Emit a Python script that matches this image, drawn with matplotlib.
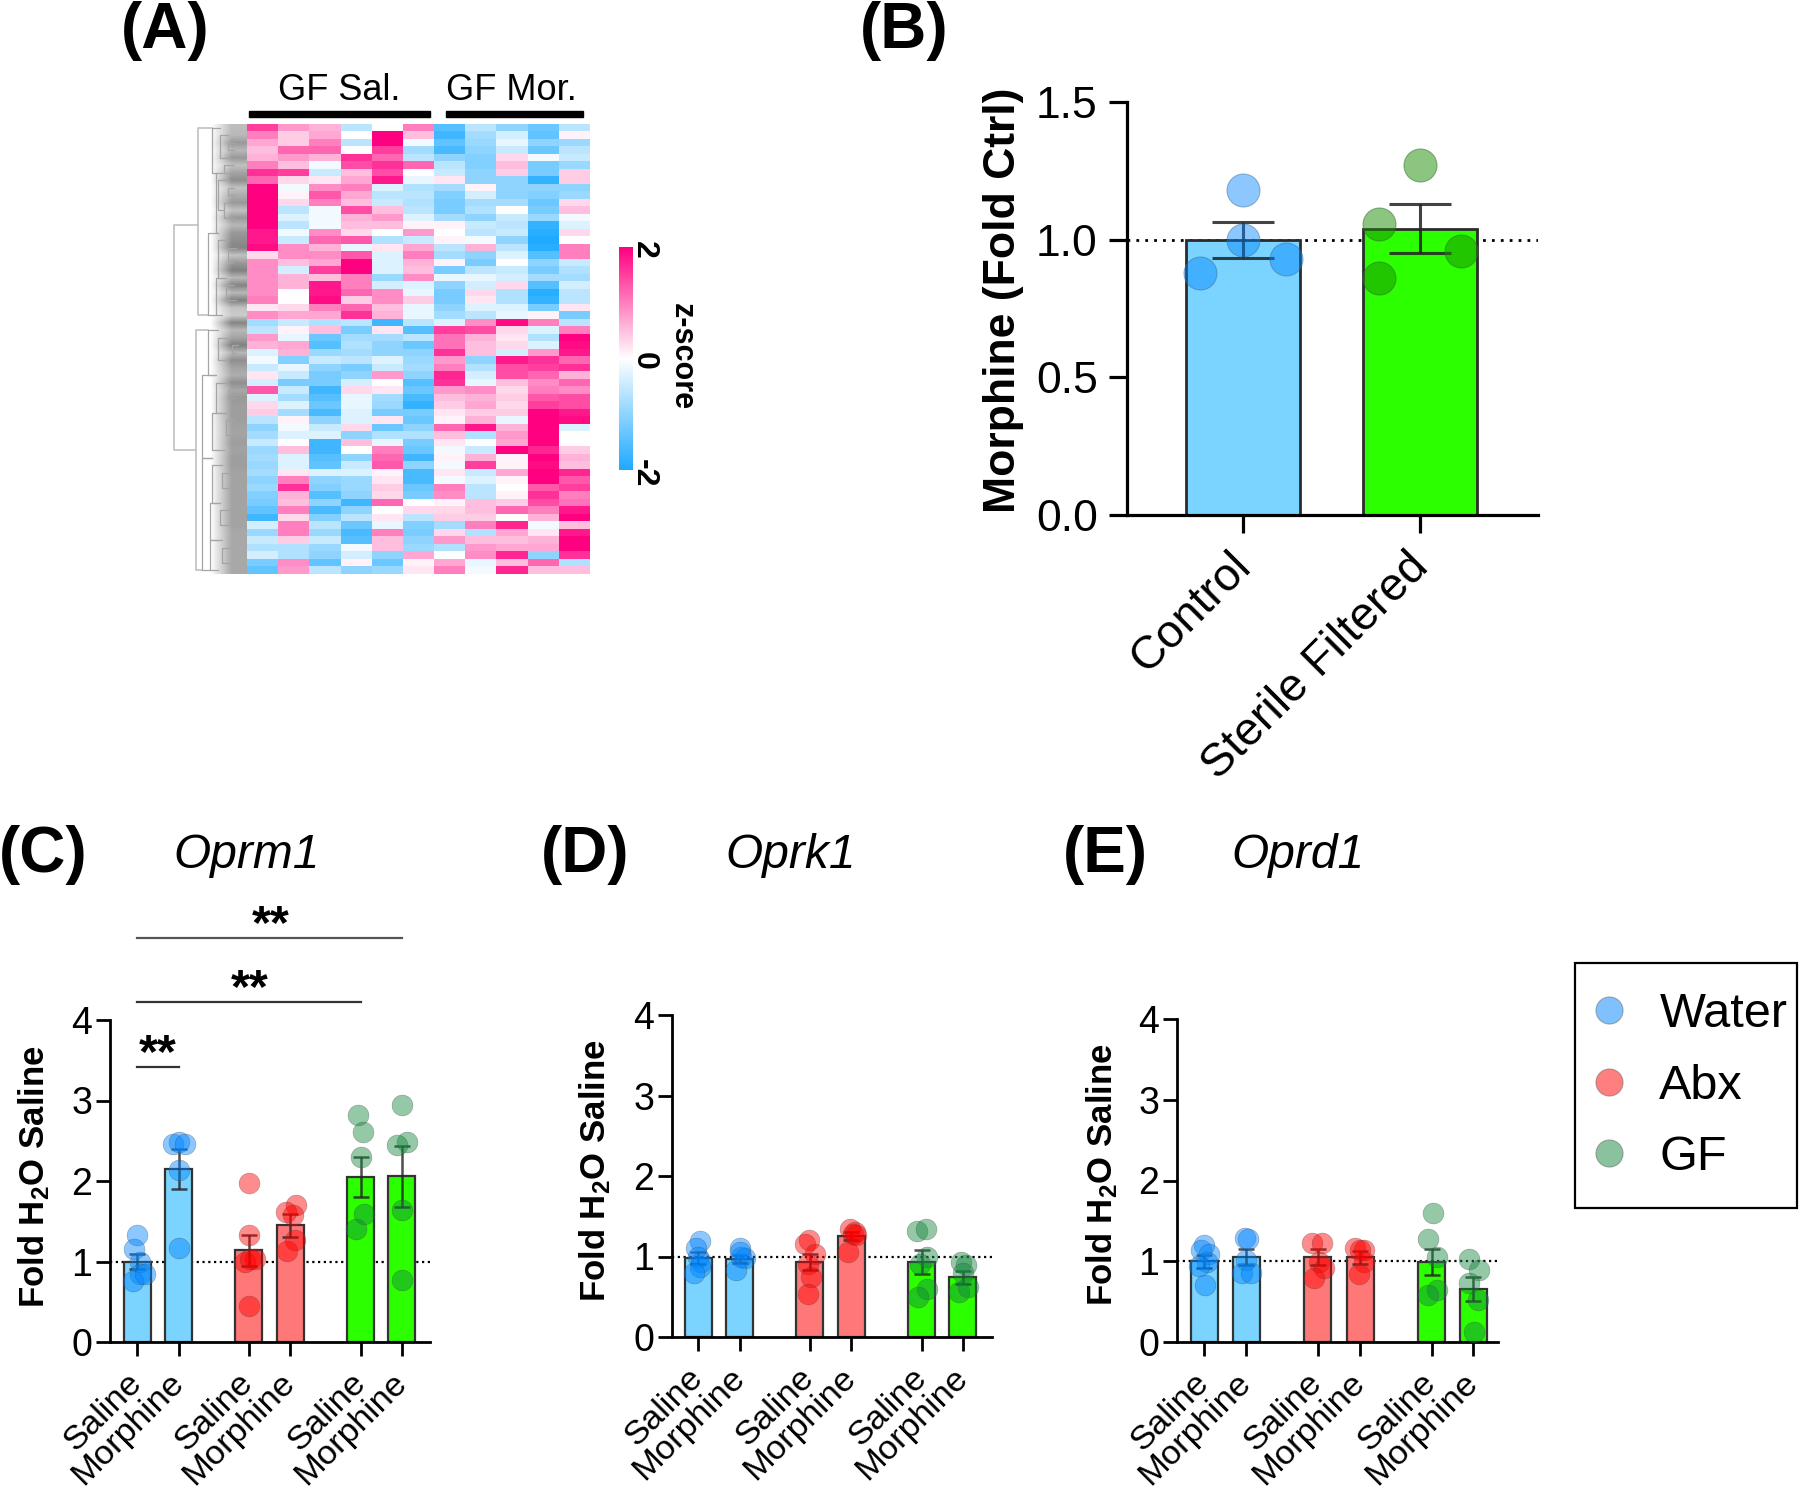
import numpy as np
import matplotlib
matplotlib.use("Agg")
import matplotlib.pyplot as plt
from matplotlib.colors import LinearSegmentedColormap
from matplotlib.lines import Line2D
from matplotlib.transforms import ScaledTranslation

plt.rcParams['font.family'] = ['Liberation Sans', 'DejaVu Sans']
plt.rcParams['mathtext.fontset'] = 'custom'
plt.rcParams['mathtext.rm'] = 'Liberation Sans'
plt.rcParams['mathtext.bf'] = 'Liberation Sans:bold'
plt.rcParams['mathtext.it'] = 'Liberation Sans:italic'

W, H = 1800, 1490

# ---------- heatmap (z-scores, 60 bands x 11 samples)
gf_sal_1 = [1.5,1.0,.7,.5,.6,1.0,1.6,1.2,2,2,2,2,2,2,1.8, 1.8,1.9,.3,.9,.9,.9,.9,.9,1.0,.2,.9,-.8,-.6,.8,.6,
            -.3,-.1,-.5,.2,-.4,1.3,-.3,.3,.4,-.6,-1,-.8,-.5,-.9,-.8, -.9,-.8,-1,-.9,-1.1,-1.2,-1.4,-1.7,-.4,-.9,-.5,-.7,-.4,-1.2,-1.4]
gf_sal_2 = [.8,.4,.4,1.2,.8,.5,1.5,.3,-.1,.1,.3,-.6,-.3,-.6,-.1, -.5,.9,.9,.5,-.4,.6,.6,0,0,.3,.7,-.5,.1,-.2,.7,
            .6,-1.1,-.2,-.5,-1.2,-.5,-.8,-.3,-.8,.1,-.1,-.3,0,.5,-.3, -.3,.2,1.0,1.6,.6,.5,1.0,.3,1.0,1.0,.4,-.7,-.7,.9,.8]
gf_sal_3 = [.6,.7,1.0,1.2,.6,-.1,-.5,.2,.9,1.3,1.0,-.1,-.1,-.1,.9, 1.2,.6,.9,.7,1.5,.5,1.8,1.8,1.9,1.0,.7,-.7,.5,-1.3,-1.5,
            -.9,-.5,-1,-1.2,-1.2,-1.7,-1.5,-1.3,-1.6,-1.0,-.5,-.3,-1.7,-1.7,-1.5, -1.4,-.3,-1.0,-1.1,-1.5,-1.0,-1.6,-1.1,-.6,-.9,-.5,-.9,-1,-1.4,-.6]
gf_sal_4 = [-.6,0,-.6,0,1.6,1.4,.5,.7,1.0,.7,.5,1.4,.6,.5,.3, 1.3,-.2,1.3,2,2,1,1,1.2,.4,1.2,1.6,-.6,-1.2,-.8,-.7,
            -.8,-.6,-1.2,-1,-.4,.3,-.2,-.2,-.3,-.3,.3,-1,.5,0,-1, -.5,-.3,-.9,-.9,-1.0,-1.7,-1.0,-.6,-1.3,-1.6,-1.5,-.1,-.4,.1,-1.0]
gf_sal_5 = [0,2,2,1.5,1.2,1.6,1.4,1.8,-.3,-.6,-.5,.5,.8,.5,0, -.7,.2,-.3,-.3,-.3,-.9,-.4,.9,.9,.5,.6,-1.7,.2,-.8,-1,
            -1,-.3,-.5,.8,0,.2,-.8,-.9,-1.2,.2,-1.3,-.7,-.2,1.0,1.2, 1.3,.1,.2,.4,.3,1.2,0,.2,-.2,1.0,.5,.5,-1,-1.3,-.9]
gf_sal_6 = [1.0,.5,-.1,-.8,-.6,1.2,0,-.2,-.7,-.6,-.7,-.6,-.3,.1,.8, -.5,.7,1.0,.6,.5,.9,-.3,-.2,.4,-.2,-.2,-.6,-1.5,-.6,-1.3,
            -1,-.9,-.8,-1,-1.5,-1.3,-1.6,-1.8,-1.2,-1.3,-1,-.7,-1.2,-1.3,-1.7, -1,-1.6,-1.6,-1.3,-1.2,0,.3,-.6,-1.1,-1.2,-1.0,-.9,.7,.1,.2]
gf_mor_1 = [-1.5,-1.7,-1.4,-1.6,-1.0,-.6,-.5,.2,-.8,-1.1,-1.2,-1.2,-.8,.1,0, .1,-.6,-.8,.1,-1.2,-.2,-1,-1.2,-1.2,-1,-.8,-.3,1.5,1.1,1.1,
            1.6,.8,1.0,1.7,1.6,.8,.5,.4,.2,.1,1.2,.5,.2,-.1,.1, -.1,.2,-.1,1.0,.9,.1,.3,.4,-.8,.3,.8,-.7,0,.7,1.0]
gf_mor_2 = [-.6,-.8,-.9,-1,-1.1,-1.1,-1,-1,.1,-.4,-.8,-.7,-1,-.5,-.6, -.1,.6,-1,-1.2,-.6,-.2,-.4,.3,.2,-.3,-.6,.9,1.4,.6,.5,
            .5,-1,-.7,-.4,-.2,.9,.6,.7,.4,.6,1.8,-.7,0,-.5,.6, 1.5,-.5,-.3,-.6,-.6,.5,.5,.4,1.0,-.7,.5,.8,.9,-.2,-.1]
gf_mor_3 = [-1,-.4,-.2,-.5,.3,.5,.4,-1,-1,-1,-.8,0,-.5,-.6,-.5, -1,-.6,-.3,0,-.5,-.4,.3,-.7,-.7,-.3,-.2,1.9,.3,.2,.3,
            -.4,1.8,1.4,1.4,.5,.3,.4,.3,.4,-.2,.6,.8,.7,2,.1, .1,.7,.1,0,.1,.4,1.2,0,1.7,.7,.5,.7,1.7,.5,1.7]
gf_mor_4 = [-1.3,-1.4,-1,-1.3,-.1,-1.2,-1.2,-1.8,-1,-1.1,-1.3,-1.2,-.9,-1.8,-1.9, -2,-1.9,-1.5,-1,-1.2,-.8,-1.5,-1.9,-1.8,-1.2,.1,1,-.3,-.7,-.3,
            .8,1.6,1.5,1.2,.9,1.0,1.3,1.5,2,2,2,2,2,1.7,2, 1.9,2,2,1.3,1.6,1.4,1.0,.6,-.1,.2,.6,.7,-1,1.2,.5]
gf_mor_5 = [-.6,.1,-.9,-.6,-.5,-.9,.4,.4,-1,-.9,.3,.5,-.1,-.3,.3, 0,1,1,-.5,-.7,-.8,-.4,-.6,-.6,.2,-1.2,-.6,1.0,2,1.9,
            1.8,1.2,1.6,.6,1.2,.9,1.4,1.4,1.8,1.9,-.3,0,0,.4,.6, .5,1.7,1.3,1.5,1.0,1.1,1.8,2,.5,1.8,2,2,1.6,-.7,.5]
heat_columns = [gf_sal_1, gf_sal_2, gf_sal_3, gf_sal_4, gf_sal_5, gf_sal_6,
                gf_mor_1, gf_mor_2, gf_mor_3, gf_mor_4, gf_mor_5]
leaf_shade = [.74,.72,.6,.72,.6,.76,.64,.56,.76,.68,.6,.76,.6,.72,.6,
              .56,.52,.76,.6,.5,.72,.52,.72,.5,.76,.8,.52,.72,.64,.5,
              .72,.56,.64,.68,.56,.66,.6,.62,.62,.62,.64,.64,.62,.64,.62,
              .62,.64,.64,.64,.64,.64,.64,.64,.64,.66,.66,.66,.66,.66,.66]
# (first row, last row, depth of stem, depth reached at top, depth reached at bottom)
dendro_links = [(13,43,2,26,24),(0,25,26,40,36),(27,59,24,36,30),
                (0,6,40,48,44),(6,14,44,52,46),(14,25,36,46,44),(1,4,48,56,58),(7,11,46,56,52),
                (15,20,46,56,54),(20,25,44,54,50),(27,33,36,46,42),(33,44,30,44,40),(44,59,30,40,38),
                (28,31,46,60,56),(34,38,44,56,52),(38,43,40,54,52),(45,50,40,50,48),(50,55,38,48,46),(55,59,38,50,46),
                (2,3,56,62,62),(5,6,52,62,60),(8,9,56,62,64),(10,12,52,60,62),(16,18,56,64,60),(21,23,54,62,64),
                (29,30,60,66,64),(35,36,56,64,62),(39,41,54,62,60),(46,48,50,60,58),(51,53,48,58,60),(56,58,50,60,58)]

# ---------- panel B
b_labels = ['Control', 'Sterile Filtered']
b_means = [1.0, 1.04]
b_errs = [.065, .088]
b_control_pts = [1.18, 1.0, .88, .93]
b_control_off = [0, 0, -.245, .245]
b_filtered_pts = [1.27, 1.058, .862, .96]
b_filtered_off = [0, -.245, -.245, .245]

# ---------- panels C, D, E
treatments = ['Saline', 'Morphine'] * 3
group_pos = [0, 1, 2.68, 3.68, 5.37, 6.35]

c_means = [1.0, 2.15, 1.14, 1.45, 2.05, 2.06]
c_errs = [.09, .25, .19, .14, .25, .38]
c_pts = [[1.33,1.16,1.0,.84,.76,.84],[2.46,2.48,2.46,2.14,1.17],[1.97,1.33,1.0,1.03,1.03,.45],
         [1.7,1.61,1.58,1.27,1.13],[2.82,2.61,2.3,1.59,1.4],[2.95,2.49,2.45,1.64,.77]]
c_off = [[0,-.06,.06,.06,-.1,.18],[-.14,0,.14,0,0],[0,0,-.1,.14,.02,0],
         [.14,-.1,.06,.12,-.09],[-.06,.04,0,.08,-.11],[0,.12,-.12,0,0]]
d_means = [.98, .97, .93, 1.26, .93, .74]
d_errs = [.07, .05, .1, .05, .15, .08]
d_pts = [[1.19,1.1,.99,.93,.87,.79],[1.1,.99,.98,.83,1.05],[1.2,1.16,1.03,.91,.74,.54],
         [1.34,1.3,1.28,1.05,1.27],[1.32,1.34,.99,.91,.6,.5],[.93,.89,.79,.56,.62]]
d_off = [[.04,-.04,0,.08,.04,-.1],[0,.04,.12,-.1,0],[-.02,-.12,.12,-.04,.04,-.04],
         [-.04,.08,.04,-.08,.12],[-.12,.1,.12,-.04,.12,-.1],[-.04,.08,0,-.08,.12]]
e_means = [1.0, 1.05, 1.05, 1.05, .99, .66]
e_errs = [.08, .1, .1, .08, .16, .15]
e_pts = [[1.2,1.14,1.09,.99,.94,.71],[1.29,1.27,1.01,.86,.86],[1.22,1.22,.99,.92,.79],
         [1.16,1.14,1.14,.99,.84],[1.6,1.27,1.05,.64,.58],[1.03,.89,.73,.52,.13]]
e_off = [[0,-.06,.11,.06,-.11,.02],[-.04,.04,0,-.1,.12],[-.13,.11,.03,.14,-.08],
         [-.12,.1,0,.1,-.03],[.02,-.09,.13,.13,-.09],[-.09,.13,-.09,.11,.02]]

BLUE_BAR, RED_BAR, GREEN_BAR = '#7AD4FF', '#FF7878', '#2BFF00'
BLUE_PT, RED_PT, GREEN_PT, GREEN_PT_B = '#0085FF', '#FF0000', '#14873C', '#198C00'
bar_cols = [BLUE_BAR]*2 + [RED_BAR]*2 + [GREEN_BAR]*2
pt_cols = [BLUE_PT]*2 + [RED_PT]*2 + [GREEN_PT]*2

fig = plt.figure(figsize=(W/100, H/100), dpi=100, facecolor='white')

def px_axes(x0, y0, x1, y1):
    return fig.add_axes([x0/W, 1-y1/H, (x1-x0)/W, (y1-y0)/H])

def ftext(x, y, s, **kw):
    kw.setdefault('ha', 'center'); kw.setdefault('va', 'center')
    return fig.text(x/W, 1-y/H, s, **kw)

def shift_xlabels(ax, dx_px):
    offset = ScaledTranslation(dx_px/100, 0, fig.dpi_scale_trans)
    for lab in ax.get_xticklabels():
        lab.set_transform(lab.get_transform() + offset)

# ---------- A
cmap = LinearSegmentedColormap.from_list('z', ['#1EAAFF', '#FFFFFF', '#FF0080'])
ax = px_axes(247, 124, 590, 574)
ax.imshow(np.array(heat_columns).T, aspect='auto', cmap=cmap, vmin=-2, vmax=2, interpolation='nearest')
ax.axis('off')

ax = px_axes(172, 124, 247, 574)
ramp = np.clip(np.linspace(0, 1.7, 24), 0, 1)
leaf = 1 - (1 - np.array(leaf_shade))[:, None] * ramp[None, :]
ax.imshow(leaf, aspect='auto', cmap='gray', vmin=0, vmax=1, extent=(38, 75, 59.5, -.5), interpolation='bilinear')
for top, bot, x, xa, xb in dendro_links:
    c = '#c0c0c0' if x < 30 else '#a5a5a5'
    ax.plot([xa, x, x, xb], [top, top, bot, bot], color=c, lw=.9 if x >= 30 else 1.2)
ax.set_xlim(0, 75); ax.set_ylim(59.5, -.5); ax.axis('off')

ax = px_axes(619, 247, 633, 470)
ax.imshow(np.linspace(2, -2, 256)[:, None], aspect='auto', cmap=cmap, vmin=-2, vmax=2)
ax.axis('off')
for lab, yy in [('2', 250), ('0', 361), ('-2', 473)]:
    ftext(644, yy, lab, fontsize=23, fontweight='bold', rotation=-90)
ftext(682, 357, 'z-score', fontsize=22, fontweight='bold', rotation=-90)

ftext(339, 90, 'GF Sal.', fontsize=26)
ftext(511, 90, 'GF Mor.', fontsize=26)
fig.add_artist(plt.Rectangle((249/W, 1-117/H), (430-249)/W, 6/H, color='black', transform=fig.transFigure))
fig.add_artist(plt.Rectangle((446/W, 1-117/H), (583-446)/W, 6/H, color='black', transform=fig.transFigure))

# ---------- B
ax = px_axes(1127, 102, 1538, 515)
pos = [0, 1]
s = 177.0
tick_b = 1243
ax.set_xlim((1127-tick_b)/s, (1538-tick_b)/s); ax.set_ylim(0, 1.5)
ax.axhline(1, color='black', lw=2, ls=(0, (1, 2.2)), zorder=1)
ax.bar(pos, b_means, width=114/s, color=[BLUE_BAR, GREEN_BAR], edgecolor='#2b2b2b', lw=2, zorder=2)
ax.errorbar(pos, b_means, yerr=b_errs, fmt='none', ecolor='#222222', elinewidth=2.2, capsize=22, capthick=2.2, zorder=3, alpha=.85)
ax.scatter(np.array(b_control_off), b_control_pts, s=565, color=BLUE_PT, alpha=.45, edgecolors='#3a6a90', lw=.8, zorder=4)
ax.scatter(1 + np.array(b_filtered_off)*.95, b_filtered_pts, s=565, color=GREEN_PT_B, alpha=.5, edgecolors='#2f6f2f', lw=.8, zorder=4)
ax.spines[['top', 'right']].set_visible(False)
ax.spines[['left', 'bottom']].set_linewidth(2.3)
ax.set_yticks([0, .5, 1, 1.5]); ax.set_yticklabels(['0.0', '0.5', '1.0', '1.5'], fontsize=32)
ax.set_xticks(pos)
ax.set_xticklabels(b_labels, fontsize=33.5, rotation=45, ha='right', rotation_mode='anchor')
ax.tick_params(width=2.3, length=13, pad=8)
ax.tick_params(axis='x', pad=8)
shift_xlabels(ax, -14)
ftext(1004, 300, 'Morphine (Fold Ctrl)', fontsize=32, fontweight='bold', rotation=90)

# ---------- C D E
def bar_panel(x_axis, x_end, y_top, y_bot, tick0, spacing, means, errs, pts, off, ylab_x, ylab_y):
    ax = px_axes(x_axis, y_top, x_end, y_bot)
    ax.set_xlim((x_axis-tick0)/spacing, (x_end-tick0)/spacing); ax.set_ylim(0, 4)
    ax.axhline(1, color='black', lw=1.6, ls=(0, (1, 1.6)), zorder=1)
    ax.bar(group_pos, means, width=27/spacing, color=bar_cols, edgecolor='#333333', lw=1.6, zorder=2)
    ax.errorbar(group_pos, means, yerr=errs, fmt='none', ecolor='#222222', elinewidth=1.8, capsize=6, capthick=1.8, zorder=3, alpha=.8)
    for p, v, o, c in zip(group_pos, pts, off, pt_cols):
        ax.scatter(p + np.array(o), v, s=225, color=c, alpha=.45, edgecolors='#444444', linewidths=.4, zorder=4, clip_on=False)
    ax.spines[['top', 'right']].set_visible(False)
    ax.spines[['left', 'bottom']].set_linewidth(2)
    ax.set_yticks(range(5)); ax.set_yticklabels(['0', '1', '2', '3', '4'], fontsize=27)
    ax.set_xticks(group_pos)
    ax.set_xticklabels(treatments, fontsize=24.8, rotation=45, ha='right', rotation_mode='anchor')
    ax.tick_params(width=2, length=10, pad=3)
    ax.tick_params(axis='x', pad=8)
    shift_xlabels(ax, -11)
    ftext(ylab_x, ylab_y, r'$\mathbf{Fold\ H_2O\ Saline}$', fontsize=25, rotation=90)
    return ax

ax_c = bar_panel(110, 430, 1020, 1342, 137, 41.7, c_means, c_errs, c_pts, c_off, 34, 1177)
bar_panel(672, 992, 1015, 1337, 698, 41.7, d_means, d_errs, d_pts, d_off, 595, 1171)
bar_panel(1177, 1498, 1019, 1342, 1204, 42.4, e_means, e_errs, e_pts, e_off, 1102, 1175)

for yv, xr, xs, c in [(5.02, 6.35, 3.2, '#555555'), (4.22, 5.37, 2.7, '#333333'), (3.42, 1, .5, '#333333')]:
    ax_c.plot([0, xr], [yv, yv], color=c, lw=1.6, clip_on=False, zorder=5)
    ax_c.text(xs, yv + .155, '**', fontsize=35, fontweight='bold', ha='center', va='center', zorder=5)

# ---------- legend
fig.add_artist(plt.Rectangle((1575/W, 1-1208/H), 222/W, 245/H, fill=False, edgecolor='black', lw=1.6,
                             transform=fig.transFigure))
handles = [Line2D([], [], ls='none', marker='o', ms=19.5, mfc=c, mec='#666666', mew=.8, alpha=.5)
           for c in (BLUE_PT, RED_PT, GREEN_PT)]
leg = fig.legend(handles, ['Water', 'Abx', 'GF'], loc='upper left', bbox_to_anchor=(1603/W, 1-992/H),
                 fontsize=35, frameon=False, borderpad=0, borderaxespad=0, labelspacing=.55,
                 handletextpad=.9, handlelength=.26)

# ---------- panel letters and gene names
for lab, x, y in [('(A)', 165, 31), ('(B)', 904, 31), ('(C)', 43, 855), ('(D)', 585, 855), ('(E)', 1105, 855)]:
    ftext(x, y, lab, fontsize=46, fontweight='bold')
for lab, x in [('Oprm1', 247), ('Oprk1', 791), ('Oprd1', 1298)]:
    ftext(x, 855, lab, fontsize=34.5, fontstyle='italic')

fig.savefig('out.png', dpi=100)
